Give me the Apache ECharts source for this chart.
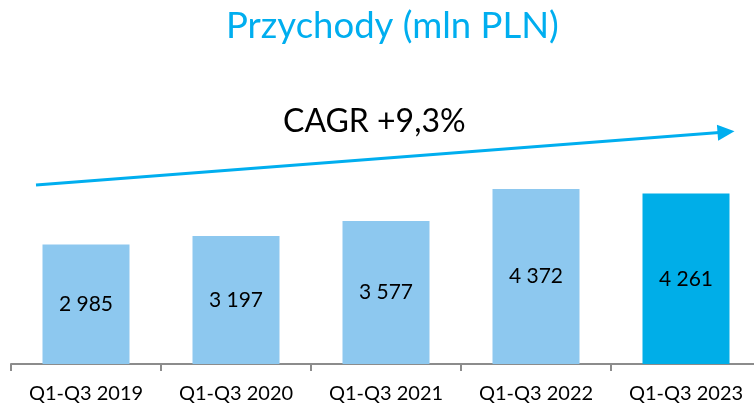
<!DOCTYPE html>
<html>
<head>
<meta charset="utf-8">
<script src="https://cdn.jsdelivr.net/npm/echarts@6/dist/echarts.min.js"></script>
<style>
	html, body { margin: 0; padding: 0; background: #fff; }
	#chart { width: 754px; height: 406px; }
</style>
</head>
<body>
<div id="chart"></div>
<script>
var categories = ['Q1-Q3 2019', 'Q1-Q3 2020', 'Q1-Q3 2021', 'Q1-Q3 2022', 'Q1-Q3 2023'];
var revenue = [2985, 3197, 3577, 4372, 4261];
var titleText = 'Przychody (mln PLN)';
var cagrText = 'CAGR +9,3%';

var lightBlue = '#8dc8ef';
var darkBlue = '#00aee8';

var chart = echarts.init(document.getElementById('chart'));

// pierwsze 4 słupki jasne, ostatni ciemny
var barData = revenue.map(function (v, i) {
	return {
		value: v,
		itemStyle: { color: i === revenue.length - 1 ? darkBlue : lightBlue }
	};
});

var option = {
	animation: false,
	title: {
		text: titleText,
		left: 221,
		top: 3,
		textStyle: {
			color: '#00aeef',
			fontSize: 36.5,
			fontWeight: 'normal',
			fontFamily: 'Lato'
		}
	},
	grid: {
		left: 11,
		width: 750,
		top: 164,
		height: 200,
		outerBoundsMode: 'none',
		containLabel: false
	},
	xAxis: {
		type: 'category',
		data: categories,
		axisLine: { lineStyle: { color: '#8c8c8c', width: 2 } },
		axisTick: { show: true, length: 7, lineStyle: { color: '#8c8c8c', width: 2 } },
		axisLabel: {
			color: '#000',
			fontSize: 20,
			fontFamily: 'Lato',
			margin: 20,
			interval: 0
		}
	},
	yAxis: {
		type: 'value',
		min: 0,
		max: 5000,
		show: false,
		splitLine: { show: false }
	},
	series: [{
		type: 'bar',
		data: barData,
		barWidth: 87,
		label: {
			show: true,
			position: 'inside',
			color: '#000',
			fontSize: 21,
			fontFamily: 'Lato',
			formatter: function (p) {
				return String(p.value).replace(/\B(?=(\d{3})+(?!\d))/g, ' ');
			}
		},
		markLine: {
			silent: true,
			symbol: ['none', 'triangle'],
			symbolSize: [16, 17],
			lineStyle: { color: '#00aeef', width: 3, type: 'solid' },
			label: { show: false },
			data: [[{ x: 36, y: 185 }, { x: 726, y: 132 }]]
		}
	}],
	graphic: [{
		type: 'text',
		left: 283,
		top: 106,
		style: {
			text: cagrText,
			fill: '#000',
			fontSize: 32,
			fontFamily: 'Lato'
		}
	}]
};

chart.setOption(option);
</script>
</body>
</html>
